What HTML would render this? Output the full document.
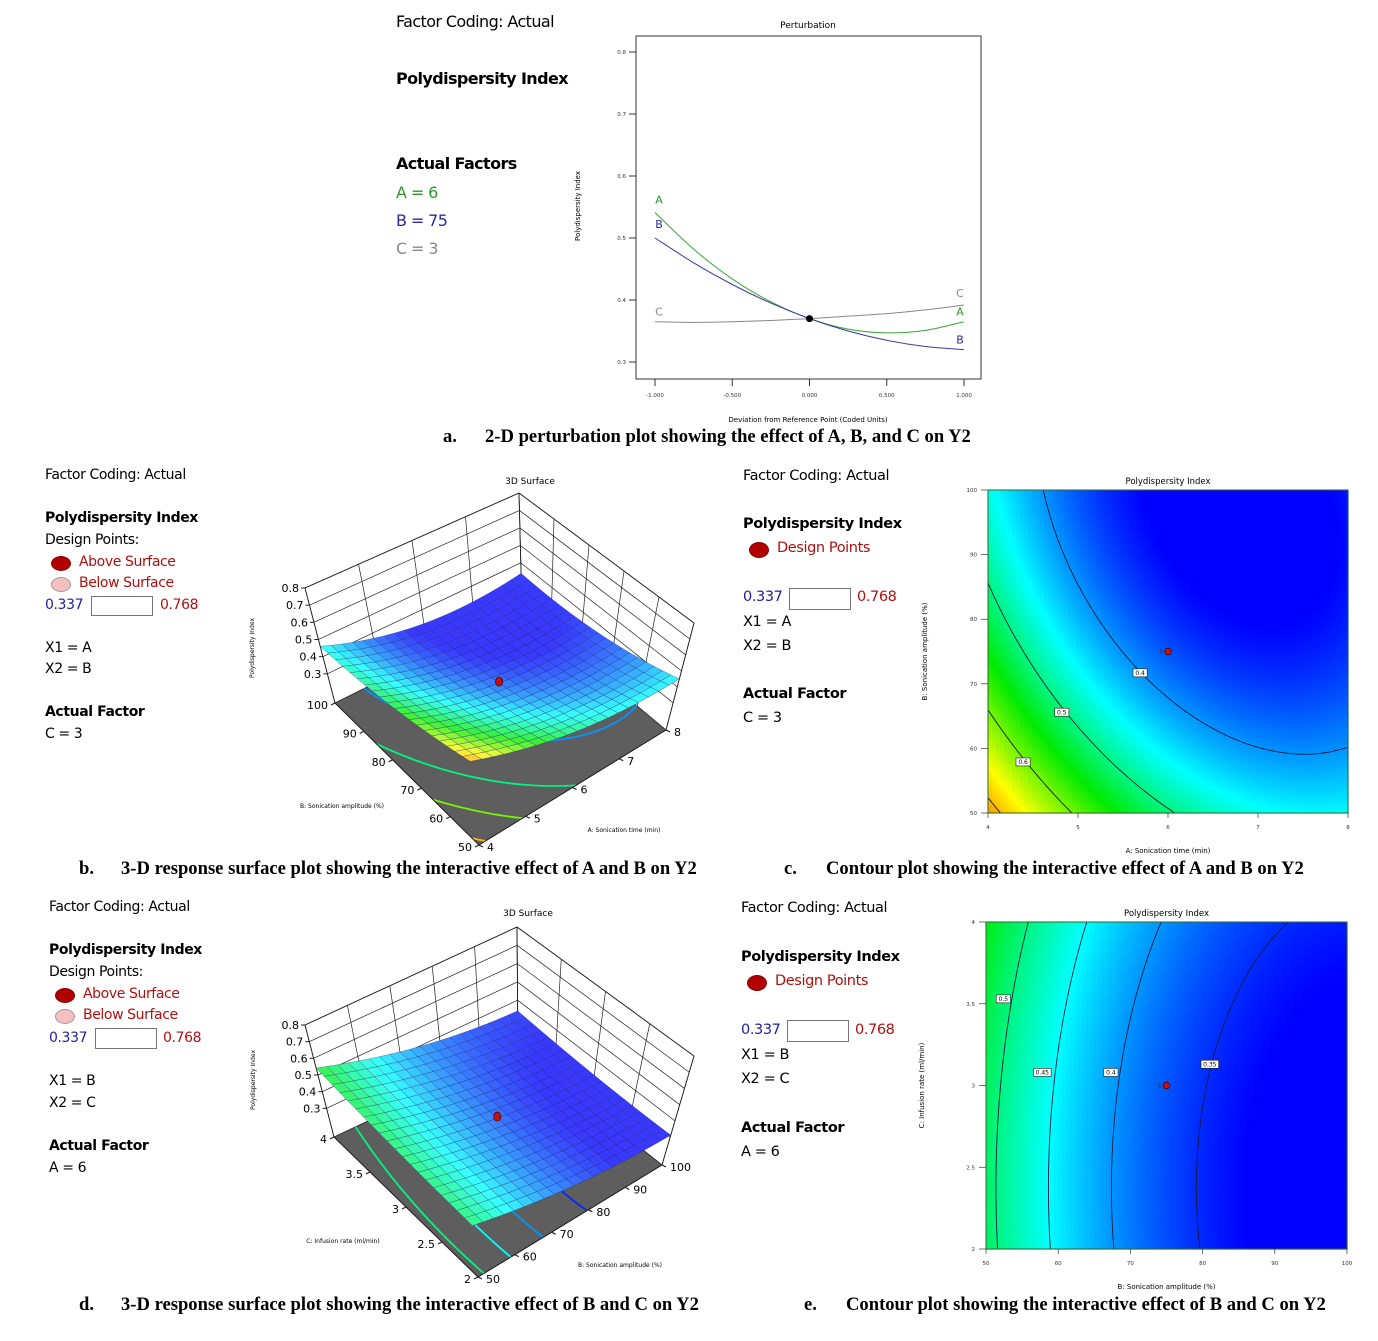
<!DOCTYPE html>
<html><head><meta charset="utf-8">
<style>
html,body{margin:0;padding:0;background:#fff;}
body{width:1378px;height:1341px;position:relative;overflow:hidden;font-family:"DejaVu Sans","Liberation Sans",sans-serif;}
.t{position:absolute;white-space:nowrap;line-height:1;}
.a{font-size:16px;letter-spacing:-0.6px;}
.s{font-size:14px;letter-spacing:-0.4px;}
.b{font-weight:bold;}
.red{color:#b01010}.blue{color:#2020a0}
.cap{position:absolute;white-space:nowrap;font-family:"Liberation Serif",serif;font-weight:bold;font-size:18.6px;line-height:1;}
.box{position:absolute;border:1px solid #777;background:#fff;}
.ell{position:absolute;border-radius:50%;}
svg{position:absolute;left:0;top:0;}
</style></head><body>
<svg id="main" width="1378" height="1341" viewBox="0 0 1378 1341" font-family="DejaVu Sans, Liberation Sans, sans-serif"></svg>

<!-- section a text -->
<div class="t a" style="left:396px;top:14px">Factor Coding: Actual</div>
<div class="t a b" style="left:396px;top:71px">Polydispersity Index</div>
<div class="t a b" style="left:396px;top:156px">Actual Factors</div>
<div class="t a" style="left:396px;top:185px;color:#2a9a2a">A = 6</div>
<div class="t a" style="left:396px;top:213px;color:#2a2aa0">B = 75</div>
<div class="t a" style="left:396px;top:241px;color:#888">C = 3</div>

<!-- section b text -->
<div class="t s" style="left:45px;top:468px">Factor Coding: Actual</div>
<div class="t s b" style="left:45px;top:511px">Polydispersity Index</div>
<div class="t s" style="left:45px;top:533px">Design Points:</div>
<div class="ell" style="left:51px;top:556px;width:18px;height:13px;background:#b00000;border:1px solid #800"></div>
<div class="t s red" style="left:79px;top:555px">Above Surface</div>
<div class="ell" style="left:51px;top:577px;width:18px;height:13px;background:#f6c0c0;border:1px solid #999"></div>
<div class="t s red" style="left:79px;top:576px">Below Surface</div>
<div class="t s blue" style="left:45px;top:598px">0.337</div>
<div class="box" style="left:91px;top:596px;width:60px;height:18px"></div>
<div class="t s red" style="left:160px;top:598px">0.768</div>
<div class="t s" style="left:45px;top:641px">X1 = A</div>
<div class="t s" style="left:45px;top:662px">X2 = B</div>
<div class="t s b" style="left:45px;top:705px">Actual Factor</div>
<div class="t s" style="left:45px;top:727px">C = 3</div>

<!-- section c text -->
<div class="t s" style="left:743px;top:469px;font-size:14.5px">Factor Coding: Actual</div>
<div class="t s b" style="left:743px;top:517px;font-size:14.5px">Polydispersity Index</div>
<div class="ell" style="left:749px;top:542px;width:18px;height:14px;background:#b00000;border:1px solid #800"></div>
<div class="t s red" style="left:777px;top:541px;font-size:14.5px">Design Points</div>
<div class="t s blue" style="left:743px;top:590px;font-size:14.5px">0.337</div>
<div class="box" style="left:789px;top:588px;width:60px;height:20px"></div>
<div class="t s red" style="left:857px;top:590px;font-size:14.5px">0.768</div>
<div class="t s" style="left:743px;top:615px;font-size:14.5px">X1 = A</div>
<div class="t s" style="left:743px;top:639px;font-size:14.5px">X2 = B</div>
<div class="t s b" style="left:743px;top:687px;font-size:14.5px">Actual Factor</div>
<div class="t s" style="left:743px;top:711px;font-size:14.5px">C = 3</div>

<!-- section d text -->
<div class="t s" style="left:49px;top:900px">Factor Coding: Actual</div>
<div class="t s b" style="left:49px;top:943px">Polydispersity Index</div>
<div class="t s" style="left:49px;top:965px">Design Points:</div>
<div class="ell" style="left:55px;top:988px;width:18px;height:13px;background:#b00000;border:1px solid #800"></div>
<div class="t s red" style="left:83px;top:987px">Above Surface</div>
<div class="ell" style="left:55px;top:1009px;width:18px;height:13px;background:#f6c0c0;border:1px solid #999"></div>
<div class="t s red" style="left:83px;top:1008px">Below Surface</div>
<div class="t s blue" style="left:49px;top:1031px">0.337</div>
<div class="box" style="left:95px;top:1028px;width:60px;height:19px"></div>
<div class="t s red" style="left:163px;top:1031px">0.768</div>
<div class="t s" style="left:49px;top:1074px">X1 = B</div>
<div class="t s" style="left:49px;top:1096px">X2 = C</div>
<div class="t s b" style="left:49px;top:1139px">Actual Factor</div>
<div class="t s" style="left:49px;top:1161px">A = 6</div>

<!-- section e text -->
<div class="t s" style="left:741px;top:901px;font-size:14.5px">Factor Coding: Actual</div>
<div class="t s b" style="left:741px;top:950px;font-size:14.5px">Polydispersity Index</div>
<div class="ell" style="left:747px;top:975px;width:18px;height:14px;background:#b00000;border:1px solid #800"></div>
<div class="t s red" style="left:775px;top:974px;font-size:14.5px">Design Points</div>
<div class="t s blue" style="left:741px;top:1023px;font-size:14.5px">0.337</div>
<div class="box" style="left:787px;top:1020px;width:60px;height:20px"></div>
<div class="t s red" style="left:855px;top:1023px;font-size:14.5px">0.768</div>
<div class="t s" style="left:741px;top:1048px;font-size:14.5px">X1 = B</div>
<div class="t s" style="left:741px;top:1072px;font-size:14.5px">X2 = C</div>
<div class="t s b" style="left:741px;top:1121px;font-size:14.5px">Actual Factor</div>
<div class="t s" style="left:741px;top:1145px;font-size:14.5px">A = 6</div>

<!-- captions -->
<div class="cap" style="left:443px;top:428px">a.</div>
<div class="cap" style="left:485px;top:428px">2-D perturbation plot showing the effect of A, B, and C on Y2</div>
<div class="cap" style="left:79px;top:860px">b.</div>
<div class="cap" style="left:121px;top:860px">3-D response surface plot showing the interactive effect of A and B on Y2</div>
<div class="cap" style="left:784px;top:860px">c.</div>
<div class="cap" style="left:826px;top:860px">Contour plot showing the interactive effect of A and B on Y2</div>
<div class="cap" style="left:79px;top:1296px">d.</div>
<div class="cap" style="left:121px;top:1296px">3-D response surface plot showing the interactive effect of B and C on Y2</div>
<div class="cap" style="left:804px;top:1296px">e.</div>
<div class="cap" style="left:846px;top:1296px">Contour plot showing the interactive effect of B and C on Y2</div>

<script>
// ---------- data ----------
const pertX = [-1, -0.75, -0.5, -0.25, 0, 0.25, 0.5, 0.75, 1];
const pertA = [0.541, 0.482, 0.434, 0.397, 0.370, 0.353, 0.347, 0.351, 0.365];
const pertB = [0.500, 0.460, 0.425, 0.395, 0.370, 0.350, 0.335, 0.325, 0.320];
const pertC = [0.365, 0.364, 0.365, 0.367, 0.370, 0.374, 0.378, 0.384, 0.392];
const pertYTicks = [0.3, 0.4, 0.5, 0.6, 0.7, 0.8];
const pertXTicks = [-1, -0.5, 0, 0.5, 1];
const pertXTickLabels = ["-1.000", "-0.500", "0.000", "0.500", "1.000"];
// response-surface model coefficients: intercept, X1, X1^2, X2, X2^2, X1*X2 (coded units)
const modelAB = [0.37, -0.0975, 0.08, -0.0925, 0.0425, 0.0375];
const modelBC = [0.37, -0.10, 0.045, 0.015, 0.012, 0.0];
const aTicks = [4, 5, 6, 7, 8];
const bTicks = [50, 60, 70, 80, 90, 100];
const cTicks = [2, 2.5, 3, 3.5, 4];
const zTicks = [0.3, 0.4, 0.5, 0.6, 0.7, 0.8];
const levelsAB = [0.4, 0.5, 0.6, 0.7];
const levelsBC = [0.35, 0.4, 0.45, 0.5];
const labelsAB = [[0.4, 5.69, 71.7], [0.5, 4.82, 65.6], [0.6, 4.39, 57.9]];
const labelsBC = [[0.5, 52.4, 3.53], [0.45, 57.8, 3.08], [0.4, 67.3, 3.08], [0.35, 81, 3.13]];
const designAB = [6, 75];
const designBC = [75, 3];

// ---------- helpers ----------
const NS = "http://www.w3.org/2000/svg";
const svg = document.getElementById("main");
function el(tag, attrs, parent) {
  const e = document.createElementNS(NS, tag);
  for (const k in attrs) e.setAttribute(k, attrs[k]);
  (parent || svg).appendChild(e);
  return e;
}
function txt(x, y, s, attrs, parent) {
  const e = el("text", Object.assign({x: x, y: y}, attrs), parent);
  e.textContent = s;
  return e;
}
function model(c, x, y) { return c[0] + c[1]*x + c[2]*x*x + c[3]*y + c[4]*y*y + c[5]*x*y; }
const cmapStops = [[0.33,[0,0,255]],[0.45,[0,255,255]],[0.55,[0,235,0]],[0.66,[255,255,0]],[0.76,[255,80,0]]];
function cmapRGB(v) {
  if (v <= cmapStops[0][0]) return [0,0,255];
  for (let i = 1; i < cmapStops.length; i++) {
    if (v <= cmapStops[i][0]) {
      const a = cmapStops[i-1], b = cmapStops[i];
      const t = (v - a[0]) / (b[0] - a[0]);
      return a[1].map((q, j) => Math.round(q + (b[1][j] - q) * t));
    }
  }
  return [255,80,0];
}
function cmap(v) { return "rgb(" + cmapRGB(v).join(",") + ")"; }
function cmapLight(v, k) { return "rgb(" + cmapRGB(v).map(c => Math.round(c + (255 - c) * k)).join(",") + ")"; }
function contourSegs(f, n, level) {
  const segs = [];
  const val = [];
  for (let i = 0; i <= n; i++) { val.push([]); for (let j = 0; j <= n; j++) val[i].push(f(i/n, j/n)); }
  for (let i = 0; i < n; i++) for (let j = 0; j < n; j++) {
    const c = [[i,j],[i+1,j],[i+1,j+1],[i,j+1]];
    const pts = [];
    for (let k = 0; k < 4; k++) {
      const p = c[k], q = c[(k+1)%4];
      const vp = val[p[0]][p[1]] - level, vq = val[q[0]][q[1]] - level;
      if ((vp < 0) !== (vq < 0)) {
        const t = vp / (vp - vq);
        pts.push([(p[0] + t*(q[0]-p[0]))/n, (p[1] + t*(q[1]-p[1]))/n]);
      }
    }
    if (pts.length >= 2) segs.push([pts[0], pts[1]]);
    if (pts.length === 4) segs.push([pts[2], pts[3]]);
  }
  return segs;
}
function smoothPath(pts) {
  let d = "M" + pts[0][0] + "," + pts[0][1];
  for (let i = 0; i < pts.length - 1; i++) {
    const p0 = pts[Math.max(0,i-1)], p1 = pts[i], p2 = pts[i+1], p3 = pts[Math.min(pts.length-1,i+2)];
    const c1 = [p1[0] + (p2[0]-p0[0])/6, p1[1] + (p2[1]-p0[1])/6];
    const c2 = [p2[0] - (p3[0]-p1[0])/6, p2[1] - (p3[1]-p1[1])/6];
    d += " C" + c1.join(",") + " " + c2.join(",") + " " + p2.join(",");
  }
  return d;
}

// ---------- perturbation plot ----------
(function(){
  const g = el("g", {});
  
  
  const px = x => 809.5 + x * 154.5;
  const py = v => 362 - (v - 0.3) * 620;
  const frame = el("rect", {x:636, y:36, width:345, height:343, fill:"none", stroke:"#333", "stroke-width":1}, g);
  
  
  const title = txt(808, 28, "Perturbation", {"font-size":9, "text-anchor":"middle"}, g);
  
  
  pertYTicks.forEach(v => {
    const tk = el("line", {x1:629, x2:636, y1:py(v), y2:py(v), stroke:"#333"}, g);
    
    
    const tl = txt(626, py(v)+2, v.toFixed(1), {"font-size":5.5, "text-anchor":"end", fill:"#333"}, g);
    
    
  });
  pertXTicks.forEach((x, i) => {
    const tk = el("line", {x1:px(x), x2:px(x), y1:379, y2:386, stroke:"#333"}, g);
    
    
    const tl = txt(px(x), 397, pertXTickLabels[i], {"font-size":5.5, "text-anchor":"middle", fill:"#333"}, g);
    
    
  });
  const xt = txt(808, 422, "Deviation from Reference Point (Coded Units)", {"font-size":7, "text-anchor":"middle"}, g);
  
  
  const yt = txt(0, 0, "Polydispersity Index", {"font-size":7, "text-anchor":"middle", transform:"translate(580,206) rotate(-90)"}, g);
  
  
  const series = [["A", pertA, "#3aa53a"], ["B", pertB, "#3a3aa8"], ["C", pertC, "#888"]];
  series.forEach(s => {
    const pts = pertX.map((x, i) => [px(x), py(s[1][i])]);
    const p = el("path", {d: smoothPath(pts), fill:"none", stroke:s[2], "stroke-width":1}, g);
    
    
  });
  const lab = [["A", pertA, "#2a9a2a", -1, -9], ["B", pertB, "#2a2aa0", -1, -10], ["C", pertC, "#888", -1, -6],
               ["A", pertA, "#2a9a2a", 1, -6], ["B", pertB, "#2a2aa0", 1, -6], ["C", pertC, "#888", 1, -8]];
  lab.forEach(l => {
    const idx = l[3] < 0 ? 0 : pertX.length - 1;
    const t = txt(px(l[3]) + (l[3] < 0 ? 4 : -4), py(l[1][idx]) + l[4], l[0], {"font-size":11, fill:l[2], "text-anchor":"middle"}, g);
    
    
  });
  const dot = el("circle", {cx:px(0), cy:py(pertA[4]), r:3.5, fill:"#000"}, g);
  
  
})();

// ---------- contour plots ----------
function contourPlot(cfg) {
  const g = el("g", {});
  
  
  const W = cfg.x1 - cfg.x0, H = cfg.y1 - cfg.y0;
  const n = 90;
  const f = (u, v) => model(cfg.coef, 2*u - 1, 2*v - 1);
  for (let i = 0; i < n; i++) for (let j = 0; j < n; j++) {
    const r = el("rect", {x: cfg.x0 + i*W/n, y: cfg.y1 - (j+1)*H/n, width: W/n + 0.6, height: H/n + 0.6, fill: cmap(f((i+0.5)/n, (j+0.5)/n))}, g);
    
    
  }
  cfg.levels.forEach(lv => {
    const segs = contourSegs(f, 60, lv);
    let d = "";
    segs.forEach(s => { d += "M" + (cfg.x0 + s[0][0]*W) + "," + (cfg.y1 - s[0][1]*H) + "L" + (cfg.x0 + s[1][0]*W) + "," + (cfg.y1 - s[1][1]*H); });
    const p = el("path", {d: d, stroke:"#1a1a3a", "stroke-width":0.9, fill:"none"}, g);
    
    
  });
  const frame = el("rect", {x:cfg.x0, y:cfg.y0, width:W, height:H, fill:"none", stroke:"#2a6a2a", "stroke-width":1}, g);
  
  
  const sx = a => cfg.x0 + (a - cfg.xr[0]) / (cfg.xr[1] - cfg.xr[0]) * W;
  const sy = b => cfg.y1 - (b - cfg.yr[0]) / (cfg.yr[1] - cfg.yr[0]) * H;
  cfg.labels.forEach(l => {
    const x = sx(l[1]), y = sy(l[2]);
    const s = String(l[0]);
    const w = s.length * 3.4 + 4;
    const b = el("rect", {x: x - w/2, y: y - 4, width: w, height: 8, fill:"#fff", stroke:"#222", "stroke-width":0.6}, g);
    
    
    const t = txt(x, y + 2.2, s, {"font-size":6, "text-anchor":"middle"}, g);
    
    
  });
  cfg.xticks.forEach(a => {
    const tk = el("line", {x1:sx(a), x2:sx(a), y1:cfg.y1, y2:cfg.y1+5, stroke:"#333", "stroke-width":0.7}, g);
    
    
    const tl = txt(sx(a), cfg.y1 + 16, String(a), {"font-size":5.5, "text-anchor":"middle", fill:"#333"}, g);
    
    
  });
  cfg.yticks.forEach(b => {
    const tk = el("line", {x1:cfg.x0-7, x2:cfg.x0, y1:sy(b), y2:sy(b), stroke:"#333", "stroke-width":0.7}, g);
    
    
    const tl = txt(cfg.x0 - 11, sy(b) + 2, String(b), {"font-size":5.5, "text-anchor":"end", fill:"#333"}, g);
    
    
  });
  const tt = txt((cfg.x0 + cfg.x1)/2, cfg.y0 - 6, "Polydispersity Index", {"font-size":8.5, "text-anchor":"middle"}, g);
  
  
  const xt = txt((cfg.x0 + cfg.x1)/2, cfg.y1 + 40, cfg.xtitle, {"font-size":7, "text-anchor":"middle"}, g);
  
  
  const yt = txt(0, 0, cfg.ytitle, {"font-size":7, "text-anchor":"middle", transform:"translate(" + cfg.ytx + "," + ((cfg.y0+cfg.y1)/2) + ") rotate(-90)"}, g);
  
  
  const dp = el("circle", {cx:sx(cfg.design[0]), cy:sy(cfg.design[1]), r:3.3, fill:"#cc1010", stroke:"#400", "stroke-width":0.8}, g);
  
  
  const dl = txt(sx(cfg.design[0]) - 7, sy(cfg.design[1]) + 2, "6", {"font-size":5.5, "text-anchor":"middle", fill:"#333"}, g);
  
  
}
contourPlot({name:"contour-plot-ab", x0:988, x1:1348, y0:490, y1:813, coef:modelAB, xr:[4,8], yr:[50,100],
  levels:levelsAB, labels:labelsAB, xticks:aTicks, yticks:bTicks, design:designAB,
  xtitle:"A: Sonication time (min)", ytitle:"B: Sonication amplitude (%)", ytx:927});
contourPlot({name:"contour-plot-bc", x0:986, x1:1347, y0:922, y1:1249, coef:modelBC, xr:[50,100], yr:[2,4],
  levels:levelsBC, labels:labelsBC, xticks:bTicks, yticks:cTicks, design:designBC,
  xtitle:"B: Sonication amplitude (%)", ytitle:"C: Infusion rate (ml/min)", ytx:924});

// ---------- 3D surface plots ----------
function surface3D(cfg) {
  const g = el("g", {});
  
  
  const zf = cfg.zf, ztop = 0.8;
  const h = cfg.h, d = cfg.d;
  function bil(q, u, v) { return q[0] + (q[1]-q[0])*u + (q[2]-q[0])*v + (q[3]-q[1]-q[2]+q[0])*u*v; }
  function P(u, v, z) {
    const bx = bil([cfg.O[0], cfg.U[0], cfg.V[0], cfg.W[0]], u, v);
    const by = bil([cfg.O[1], cfg.U[1], cfg.V[1], cfg.W[1]], u, v);
    const t = (z - zf) / (ztop - zf);
    return [bx + t*bil(d, u, v), by - t*bil(h, u, v)];
  }
  const f = (u, v) => model(cfg.coef, 2*u - 1, 2*v - 1);
  const un = a => (a - cfg.ur[0]) / (cfg.ur[1] - cfg.ur[0]);
  const vn = b => (b - cfg.vr[0]) / (cfg.vr[1] - cfg.vr[0]);
  const line = (a, b, name, w) => {
    const l = el("line", {x1:a[0], y1:a[1], x2:b[0], y2:b[1], stroke:"#222", "stroke-width":w || 0.7}, g);
    
    
  };
  zTicks.forEach(z => {
    line(P(0,1,z), P(1,1,z), 'wall-gridline');
    line(P(1,0,z), P(1,1,z), 'wall-gridline');
  });
  cfg.uticks.forEach(a => line(P(un(a),1,zf), P(un(a),1,ztop), 'wall-gridline'));
  cfg.vticks.forEach(b => line(P(1,vn(b),zf), P(1,vn(b),ztop), 'wall-gridline'));
  const fl = [P(0,0,zf), P(1,0,zf), P(1,1,zf), P(0,1,zf)];
  const floor = el("polygon", {points: fl.map(p => p.join(",")).join(" "), fill:"#5e5e5e", stroke:"#222", "stroke-width":0.8}, g);
  
  
  cfg.floorLevels.forEach(lv => {
    const segs = contourSegs(f, 40, lv);
    let dd = "";
    segs.forEach(s => { const a = P(s[0][0], s[0][1], zf), b = P(s[1][0], s[1][1], zf); dd += "M" + a.join(",") + "L" + b.join(","); });
    const p = el("path", {d: dd, stroke: cmap(lv), "stroke-width":1.8, fill:"none"}, g);
    
    
  });
  line(P(0,1,zf), P(0,1,ztop), 'z-axis-edge', 0.9);
  line(P(1,0,zf), P(1,0,ztop), 'right-edge', 0.9);
  line(P(1,1,zf), P(1,1,ztop), 'back-edge', 0.9);
  line(P(0,1,ztop), P(1,1,ztop), 'top-edge', 0.9);
  line(P(1,0,ztop), P(1,1,ztop), 'top-edge', 0.9);
  const n = 20;
  const cells = [];
  for (let i = 0; i < n; i++) for (let j = 0; j < n; j++) cells.push([i, j]);
  cells.sort((a, b) => (b[0] + b[1]) - (a[0] + a[1]));
  cells.forEach(c => {
    const u0 = c[0]/n, u1 = (c[0]+1)/n, v0 = c[1]/n, v1 = (c[1]+1)/n;
    const pts = [P(u0,v0,f(u0,v0)), P(u1,v0,f(u1,v0)), P(u1,v1,f(u1,v1)), P(u0,v1,f(u0,v1))];
    const val = f((u0+u1)/2, (v0+v1)/2);
    const poly = el("polygon", {points: pts.map(p => p.join(",")).join(" "), fill: cmapLight(val, 0.22), stroke:"#1c2660", "stroke-width":0.45, "stroke-opacity":0.6}, g);
    
    
  });
  const dp = P(un(cfg.design[0]), vn(cfg.design[1]), f(un(cfg.design[0]), vn(cfg.design[1])) + 0.01);
  const dot = el("ellipse", {cx:dp[0], cy:dp[1], rx:3.6, ry:4.6, fill:"#c01010", stroke:"#400", "stroke-width":0.7}, g);
  
  
  line(P(0,0,zf), P(1,0,zf), 'u-axis-line', 1);
  line(P(0,0,zf), P(0,1,zf), 'v-axis-line', 1);
  cfg.uticks.forEach(a => {
    const p = P(un(a), 0, zf);
    line(p, [p[0]+4, p[1]+2], 'u-tick', 1.2);
    const t = txt(p[0] + 8, p[1] + 6, String(a), {"font-size":11}, g);
    
    
  });
  cfg.vticks.forEach(b => {
    const p = P(0, vn(b), zf);
    line(p, [p[0]-4, p[1]+2], 'v-tick', 1.2);
    const t = txt(p[0] - 7, p[1] + 6, String(b), {"font-size":11, "text-anchor":"end"}, g);
    
    
  });
  zTicks.forEach(z => {
    const p = P(0, 1, z);
    line(p, [p[0]-4, p[1]], 'z-tick', 1);
    const t = txt(p[0] - 6, p[1] + 4, z.toFixed(1), {"font-size":11, "text-anchor":"end"}, g);
    
    
  });
  const tt = txt(cfg.title[0], cfg.title[1], "3D Surface", {"font-size":9, "text-anchor":"middle"}, g);
  
  
  const ut = txt(cfg.utitle[0], cfg.utitle[1], cfg.utitle[2], {"font-size":6, "text-anchor":"middle"}, g);
  
  
  const vt = txt(cfg.vtitle[0], cfg.vtitle[1], cfg.vtitle[2], {"font-size":6, "text-anchor":"middle"}, g);
  
  
  const zt = txt(0, 0, "Polydispersity Index", {"font-size":6, "text-anchor":"middle", transform:"translate(" + cfg.ztitle[0] + "," + cfg.ztitle[1] + ") rotate(-90)"}, g);
  
  
}
surface3D({name:"surface-plot-ab", O:[479,845], U:[666,730], V:[335,703], W:[522,610], zf:0.13,
  h:[95,107,115,117], d:[-10,28,-30,-3],
  coef:modelAB, ur:[4,8], vr:[50,100], uticks:aTicks, vticks:bTicks, floorLevels:levelsAB, design:designAB,
  title:[530,484], utitle:[624,832,"A: Sonication time (min)"], vtitle:[342,808,"B: Sonication amplitude (%)"], ztitle:[254,648]});
surface3D({name:"surface-plot-bc", O:[478,1277], U:[662,1165], V:[334,1137], W:[518,1050], zf:0.128,
  h:[90,109,112,123], d:[-10,32,-29,-1],
  coef:modelBC, ur:[50,100], vr:[2,4], uticks:bTicks, vticks:cTicks, floorLevels:levelsBC, design:designBC,
  title:[528,916], utitle:[620,1267,"B: Sonication amplitude (%)"], vtitle:[343,1243,"C: Infusion rate (ml/min)"], ztitle:[255,1080]});
</script>
</body></html>
